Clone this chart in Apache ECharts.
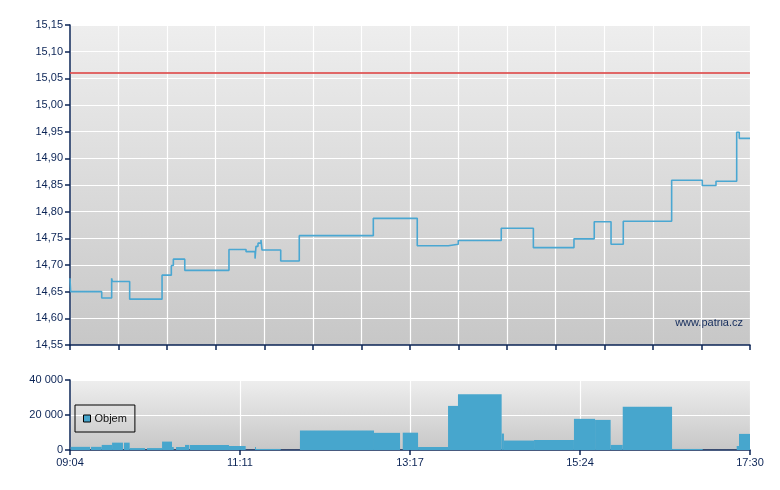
<!DOCTYPE html>
<html>
<head>
<meta charset="utf-8">
<script src="https://cdn.jsdelivr.net/npm/echarts@6/dist/echarts.min.js"></script>
<style>
html,body{margin:0;padding:0;background:#fff;}
#chart{width:780px;height:490px;}
</style>
</head>
<body>
<div id="chart"></div>
<script>
// ---- data ----
const sessionStart = "09:04";
const sessionEnd = "17:30";
const referencePrice = 15.06;

const priceTimes = ["09:04:00","09:04:30","09:27:36","09:35:00","09:35:30","09:48:24","10:12:30","10:19:24","10:20:54","10:29:24",
  "11:02:18","11:15:00","11:21:42","11:22:24","11:23:54","11:26:06","11:26:54","11:40:48","11:54:36","12:49:42",
  "13:22:24","13:45:30","13:52:54","14:24:54","14:48:48","15:19:00","15:34:06","15:46:36","15:55:42","16:31:42",
  "16:54:30","17:04:42","17:20:06","17:22:00","17:30:00"];
const priceValues = [14.675,14.65,14.638,14.675,14.669,14.636,14.681,14.699,14.711,14.690,
  14.729,14.725,14.712,14.735,14.741,14.747,14.728,14.7075,14.755,14.7875,
  14.736,14.739,14.746,14.769,14.7325,14.749,14.781,14.739,14.782,14.859,
  14.849,14.857,14.949,14.9375,14.9375];

const volStart = ["09:04:30","09:19:36","09:27:36","09:35:18","09:44:12","09:48:24","10:01:18","10:12:30","10:19:54","10:22:54",
  "10:29:36","10:33:18","11:02:18","11:21:42","11:22:24","11:55:06","12:50:12","13:11:36","13:23:00","13:45:18",
  "13:52:42","14:25:12","14:26:54","14:49:18","15:19:00","15:34:42","15:46:18","15:55:18","16:32:00","17:20:06","17:21:48"];
const volEnd = ["09:18:54","09:27:36","09:35:18","09:43:24","09:48:24","09:59:48","10:12:30","10:19:54","10:21:12","10:29:36",
  "10:32:48","11:02:18","11:14:42","11:22:24","11:40:48","12:50:12","13:09:36","13:23:00","13:45:18","13:52:42",
  "14:25:12","14:26:54","14:49:18","15:19:00","15:34:42","15:46:18","15:55:18","16:32:00","16:54:48","17:21:48","17:30:00"];
const volValues = [1800,1800,2900,4200,4200,1100,1100,4800,1700,1700,
  2900,2900,2300,1700,600,11100,9800,9900,1700,25200,
  31800,9400,5400,5700,17800,17200,2900,24700,600,2300,9200];

const priceTicks = {min:14.55, max:15.15, step:0.05};
const volTicks = {min:0, max:40000, step:20000};
const topGridDivisions = 14;
const bottomGridDivisions = 4;

// ---- helpers ----
function toMin(t){ const p=t.split(':').map(Number); return p[0]*60+p[1]+(p[2]||0)/60; }
const t0 = toMin(sessionStart), t1 = toMin(sessionEnd);
const span = t1 - t0;
function rel(t){ return toMin(t) - t0; }
function fmtTime(m){ const tot=Math.round(t0+m); const h=Math.floor(tot/60), mm=tot%60; return String(h).padStart(2,'0')+':'+String(mm).padStart(2,'0'); }

const priceData = priceTimes.map((t,i)=>[rel(t), priceValues[i]]);
const volData = volStart.map((t,i)=>[rel(t), rel(volEnd[i]), volValues[i]]);

const NAVY = '#0b2456';
const FONT = '"Liberation Sans", Arial, sans-serif';
const BAR = '#47a6cd';
const bg = {type:'linear',x:0,y:0,x2:0,y2:1,colorStops:[{offset:0,color:'#eeeeee'},{offset:1,color:'#c7c7c7'}]};

const chart = echarts.init(document.getElementById('chart'), null, {renderer:'canvas'});
chart.setOption({
  animation:false,
  backgroundColor:'#ffffff',
  textStyle:{fontFamily:FONT},
  grid:[
    {left:70, top:25, width:680, height:320, show:true, backgroundColor:bg, borderWidth:0},
    {left:70, top:380, width:680, height:70, show:true, backgroundColor:bg, borderWidth:0}
  ],
  legend:{
    left:75, top:405, orient:'horizontal',
    padding:[8,8,8,8], borderColor:'#000', borderWidth:1,
    itemWidth:7, itemHeight:7, itemGap:4, icon:'rect',
    textStyle:{fontFamily:FONT, fontSize:11, color:'#111', padding:[0,0,0,-1]},
    itemStyle:{borderColor:'#000', borderWidth:1},
    data:['Objem']
  },
  xAxis:[
    {type:'value', gridIndex:0, min:0, max:span, interval:span/topGridDivisions,
     axisLine:{show:true, onZero:false, lineStyle:{color:NAVY, width:1.5}},
     axisTick:{show:true, length:5, lineStyle:{color:NAVY, width:1.5}},
     axisLabel:{show:false},
     splitLine:{show:true, lineStyle:{color:'#ffffff', width:1.2}}},
    {type:'value', gridIndex:1, min:0, max:span, interval:span/bottomGridDivisions,
     axisLine:{show:true, onZero:false, lineStyle:{color:NAVY, width:1.5}},
     axisTick:{show:true, length:5, lineStyle:{color:NAVY, width:1.5}},
     axisLabel:{show:true, margin:7, color:NAVY, fontSize:11, fontFamily:FONT, formatter:v=>fmtTime(v)},
     splitLine:{show:true, lineStyle:{color:'#ffffff', width:1.2}}}
  ],
  yAxis:[
    {type:'value', gridIndex:0, min:priceTicks.min, max:priceTicks.max, interval:priceTicks.step,
     axisLine:{show:true, lineStyle:{color:NAVY, width:1.5}},
     axisTick:{show:true, length:5, lineStyle:{color:NAVY, width:1.5}},
     axisLabel:{margin:7, color:NAVY, fontSize:11, fontFamily:FONT, formatter:v=>v.toFixed(2).replace('.',',')},
     splitLine:{show:true, lineStyle:{color:'#ffffff', width:1.2}}},
    {type:'value', gridIndex:1, min:volTicks.min, max:volTicks.max, interval:volTicks.step,
     axisLine:{show:true, lineStyle:{color:NAVY, width:1.5}},
     axisTick:{show:true, length:5, lineStyle:{color:NAVY, width:1.5}},
     axisLabel:{margin:7, color:NAVY, fontSize:11, fontFamily:FONT, formatter:v=>String(v).replace(/\B(?=(\d{3})+(?!\d))/g,' ')},
     splitLine:{show:true, lineStyle:{color:'#ffffff', width:1.2}}}
  ],
  graphic:[
    {type:'text', right:37, top:317, style:{text:'www.patria.cz', fill:'#142c5c', font:'11px '+FONT}}
  ],
  series:[
    {name:'Cena', type:'line', xAxisIndex:0, yAxisIndex:0, step:'end', data:priceData,
     showSymbol:false, symbol:'none',
     lineStyle:{color:'#4aa7d2', width:1.6},
     markLine:{silent:true, symbol:'none', label:{show:false},
       lineStyle:{color:'rgba(222,80,80,0.85)', width:2, type:'solid'},
       data:[{yAxis:referencePrice}]}
    },
    {name:'Objem', type:'custom', xAxisIndex:1, yAxisIndex:1, data:volData, clip:true,
     encode:{x:[0,1], y:2},
     itemStyle:{color:BAR, borderColor:'#000', borderWidth:0},
     renderItem:function(params, api){
       const s = api.coord([api.value(0), 0]);
       const e = api.coord([api.value(1), api.value(2)]);
       return {type:'rect', shape:{x:s[0], y:e[1], width:e[0]-s[0], height:s[1]-e[1]}, style:{fill:BAR}};
     }}
  ]
});
</script>
</body>
</html>
